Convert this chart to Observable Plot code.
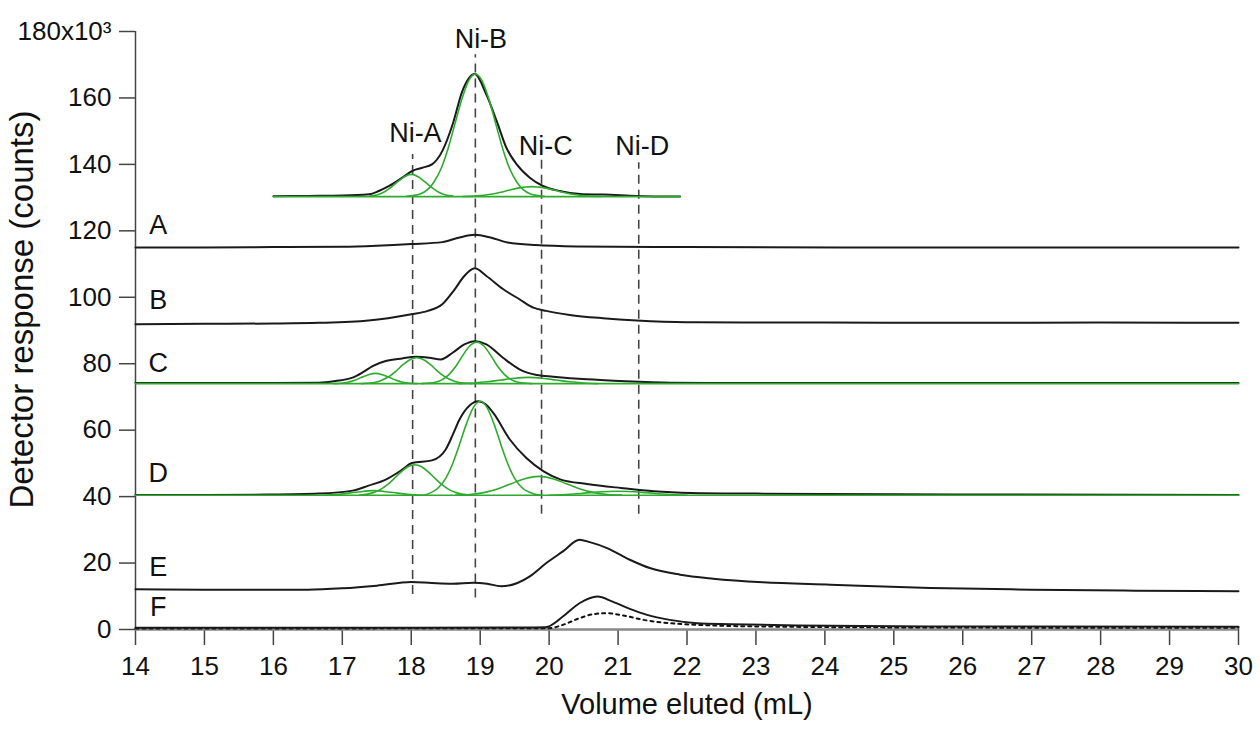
<!DOCTYPE html>
<html><head><meta charset="utf-8">
<script src="https://cdn.jsdelivr.net/npm/d3@7"></script>
<script src="https://cdn.jsdelivr.net/npm/@observablehq/plot@0.6"></script>
<style>body{margin:0;background:#fff}</style>
</head><body><div id="chart"></div>
<script>
// ---- axis ticks ----
const volTicks = [14,15,16,17,18,19,20,21,22,23,24,25,26,27,28,29,30];
const respTicks = [0,20,40,60,80,100,120,140,160,180];

// ---- black traces: [volume mL, response x10^3] ----
const insetTrace = [[16.0,130.4],[16.5,130.5],[17.0,130.6],[17.39,131.0],[17.53,132],[17.68,133.5],[17.87,136],[18.01,138],[18.16,139],[18.3,140],[18.45,144],[18.6,152],[18.74,162],[18.92,167.2],[19.09,161],[19.24,153],[19.38,145],[19.53,140],[19.72,136],[19.91,133.5],[20.15,132],[20.49,131],[20.78,130.9],[21.27,130.5],[21.9,130.3]];
const traceA = [[14,115.0],[15,115.0],[16,115.1],[17,115.2],[17.5,115.5],[18.0,116.0],[18.45,116.6],[18.7,118.0],[18.92,118.8],[19.15,118.0],[19.4,116.5],[19.8,115.7],[20.4,115.3],[22,115.1],[26,115.0],[30,115.0]];
const traceB = [[14,91.9],[15,92.0],[16,92.1],[16.66,92.3],[17.38,93.0],[18.0,94.9],[18.24,95.9],[18.45,97.9],[18.63,102.4],[18.77,106.4],[18.92,108.7],[19.09,106.4],[19.33,102.5],[19.57,99.4],[19.77,96.9],[19.96,95.9],[20.3,94.7],[20.78,93.7],[21.27,93.0],[22,92.5],[24,92.4],[26,92.3],[28,92.4],[30,92.3]];
const traceC = [[14,74.2],[15,74.2],[16,74.2],[16.66,74.3],[16.9,74.8],[17.15,75.8],[17.29,77.3],[17.44,79.3],[17.63,80.8],[17.87,81.6],[18.06,82.1],[18.26,81.8],[18.43,81.3],[18.6,83.3],[18.77,85.8],[18.92,86.8],[19.09,85.8],[19.33,81.8],[19.57,78.3],[19.82,76.6],[20.06,76.1],[20.55,75.3],[21.03,74.8],[21.76,74.3],[23,74.2],[30,74.2]];
const traceD = [[14,40.5],[15,40.5],[15.93,40.6],[16.66,40.9],[17.15,41.8],[17.38,43.3],[17.63,45.1],[17.87,48.1],[18.01,50.1],[18.3,50.9],[18.5,54.2],[18.6,58.5],[18.7,63.2],[18.85,67.5],[18.97,68.7],[19.08,67.8],[19.19,65.2],[19.43,57.2],[19.67,51.6],[19.92,47.6],[20.17,45.1],[20.55,43.8],[21.04,42.6],[21.52,41.6],[22.06,41.1],[23,40.9],[25,40.7],[30,40.5]];
const traceE = [[14,12.1],[15,12.0],[16,12.0],[16.5,12.0],[17.0,12.4],[17.5,13.2],[18.0,14.3],[18.3,14.0],[18.6,13.8],[18.9,14.1],[19.1,13.8],[19.3,13.0],[19.54,14.0],[19.72,16.0],[19.96,20.0],[20.2,23.5],[20.44,27.0],[20.59,26.3],[20.84,24.5],[21.17,21.0],[21.46,18.5],[21.9,16.5],[22.38,15.3],[23.1,14.2],[24.08,13.5],[25.53,12.5],[27,12.0],[28.5,11.7],[30,11.5]];
const traceF = [[14,0.5],[16,0.5],[18,0.5],[19.5,0.6],[19.95,0.7],[20.2,3.9],[20.44,7.9],[20.7,9.9],[20.92,8.4],[21.17,6.2],[21.42,4.4],[21.75,2.9],[22.15,1.9],[22.63,1.6],[23.6,1.2],[25.5,0.9],[30,0.8]];
const traceFdotted = [[14,0.3],[20.0,0.4],[20.2,1.4],[20.44,3.4],[20.67,4.7],[20.84,4.9],[21.08,4.2],[21.37,2.9],[21.75,1.9],[22.15,1.4],[23.1,0.9],[25.5,0.6],[30,0.5]];

// ---- green fitted components ----
const insetBase = [[16.0,130.3],[21.9,130.3]];
const insetNiA = [[17.4,130.45],[17.5,130.8],[17.6,131.6],[17.7,133.0],[17.8,134.7],[17.9,136.3],[18.0,137.0],[18.1,136.3],[18.2,134.7],[18.3,133.0],[18.4,131.6],[18.5,130.8],[18.6,130.45]];
const insetNiB = [[17.93,130.4],[18.13,131.1],[18.33,134.7],[18.43,138.6],[18.53,144.5],[18.63,151.9],[18.73,159.4],[18.83,165.1],[18.93,167.2],[19.03,165.1],[19.13,159.4],[19.23,151.9],[19.33,144.5],[19.43,138.6],[19.53,134.7],[19.73,131.1],[19.93,130.4]];
const insetNiC = [[18.75,130.35],[18.95,130.52],[19.15,131.0],[19.35,131.86],[19.55,132.85],[19.75,133.3],[19.95,132.85],[20.15,131.86],[20.35,131.0],[20.55,130.52],[20.75,130.35]];
const cBase = [[14,74.0],[30,74.0]];
const c1 = [[16.88,74.0],[16.98,74.1],[17.08,74.4],[17.18,75.0],[17.28,75.9],[17.38,76.7],[17.48,77.1],[17.58,76.7],[17.68,75.9],[17.78,75.0],[17.88,74.4],[17.98,74.1],[18.08,74.0]];
const c2 = [[17.28,74.0],[17.48,74.4],[17.58,75.1],[17.68,76.2],[17.78,77.8],[17.88,79.7],[17.98,81.2],[18.08,81.8],[18.18,81.2],[18.28,79.7],[18.38,77.8],[18.48,76.2],[18.58,75.1],[18.68,74.4],[18.88,74.0]];
const c3 = [[18.15,74.0],[18.35,74.4],[18.45,75.2],[18.55,76.8],[18.65,79.3],[18.75,82.6],[18.85,85.4],[18.95,86.5],[19.05,85.4],[19.15,82.6],[19.25,79.3],[19.35,76.8],[19.45,75.2],[19.55,74.4],[19.75,74.0]];
const c4 = [[18.7,74.0],[18.9,74.2],[19.1,74.55],[19.3,75.1],[19.5,75.65],[19.7,75.9],[19.9,75.65],[20.1,75.1],[20.3,74.55],[20.5,74.2],[20.7,74.0]];
const dBase = [[14,40.4],[30,40.4]];
const d1 = [[16.7,40.4],[16.95,40.7],[17.2,41.3],[17.45,41.8],[17.7,41.3],[17.95,40.7],[18.2,40.4]];
const d2 = [[17.25,40.4],[17.45,41.2],[17.55,42.1],[17.65,43.5],[17.75,45.4],[17.85,47.4],[17.95,49.0],[18.05,49.6],[18.15,49.0],[18.25,47.4],[18.35,45.4],[18.45,43.5],[18.55,42.1],[18.65,41.2],[18.85,40.4]];
const d3 = [[18.2,40.5],[18.4,42.8],[18.5,45.5],[18.6,49.9],[18.7,55.7],[18.8,61.9],[18.9,66.8],[19.0,68.7],[19.1,66.8],[19.2,61.9],[19.3,55.7],[19.4,49.9],[19.5,45.5],[19.6,42.8],[19.8,40.7],[19.9,40.4]];
const d4 = [[18.65,40.45],[18.85,40.65],[19.05,41.2],[19.25,42.3],[19.45,43.9],[19.65,45.4],[19.85,46.1],[20.05,45.4],[20.25,43.9],[20.45,42.3],[20.65,41.2],[20.85,40.65],[21.05,40.45]];
const d5 = [[20.0,40.4],[20.3,40.7],[20.6,41.2],[21.0,41.6],[21.4,41.2],[21.7,40.7],[22.0,40.4]];

// ---- peak markers ----
const peakNames = ["Ni-A","Ni-B","Ni-C","Ni-D"];
const peakVol = [18.02, 18.93, 19.89, 21.30];
const peakLineTop = [143, 173, 143, 140.5];
const peakLineBottom = [10.5, 9.5, 34.7, 34.7];
const peakLabelX = [18.06, 19.01, 19.95, 21.35];
const peakLabelY = [149.2, 177.6, 145.4, 145.4];

// ---- trace letters ----
const traceNames = ["A","B","C","D","E","F"];
const traceLabelY = [121.5, 99.2, 80.2, 47.0, 18.8, 6.7];
const traceLabelX = 14.33;

const toRows = (list) => list.flatMap(([s, pts]) => pts.map(([x, y]) => ({s, x, y})));
const blackRows = toRows([["inset",insetTrace],["A",traceA],["B",traceB],["C",traceC],["D",traceD],["E",traceE],["F",traceF]]);
const greenRows = toRows([["ib",insetBase],["ia",insetNiA],["ibb",insetNiB],["ic",insetNiC],["cb",cBase],["c1",c1],["c2",c2],["c3",c3],["c4",c4],["db",dBase],["d1",d1],["d2",d2],["d3",d3],["d4",d4],["d5",d5]]);
const dottedRows = toRows([["Fd",traceFdotted]]);
const peaks = peakNames.map((n,i) => ({n, x: peakVol[i], y1: peakLineBottom[i], y2: peakLineTop[i], lx: peakLabelX[i], ly: peakLabelY[i]}));
const letters = traceNames.map((n,i) => ({n, x: traceLabelX, y: traceLabelY[i]}));

const green = "#2eaa2e";
const font = "'Liberation Sans', Arial, Helvetica, sans-serif";

const chart = Plot.plot({
  width: 1260, height: 735,
  marginLeft: 135, marginRight: 22, marginTop: 31, marginBottom: 106,
  style: {fontFamily: font, background: "#fff", color: "#111"},
  x: {domain: [14, 30]},
  y: {domain: [0, 180]},
  marks: [
    Plot.axisY({ticks: respTicks, tickSize: 16, tickPadding: 8, fontSize: 26, label: null,
      tickFormat: d => d === 180 ? "180x10³" : String(d), stroke: "#444", strokeWidth: 1.5, fill: "#111"}),
    Plot.axisX({ticks: volTicks, tickSize: 16, tickPadding: 11, fontSize: 26, label: null,
      tickFormat: d => String(d), stroke: "#444", strokeWidth: 1.5, fill: "#111"}),
    Plot.ruleX([14], {y1: 0, y2: 180, stroke: "#444", strokeWidth: 1.5}),
    Plot.ruleY([0], {x1: 14, x2: 30, stroke: "#888", strokeWidth: 2.5}),
    Plot.ruleX(peaks, {x: "x", y1: "y1", y2: "y2", stroke: "#444", strokeWidth: 1.6, strokeDasharray: "9,6"}),
    Plot.line(dottedRows, {x: "x", y: "y", z: "s", curve: "monotone-x", stroke: "#111", strokeWidth: 2, strokeDasharray: "3,4"}),
    Plot.line(blackRows, {x: "x", y: "y", z: "s", curve: "monotone-x", stroke: "#1a1a1a", strokeWidth: 2}),
    Plot.line(greenRows, {x: "x", y: "y", z: "s", curve: "monotone-x", stroke: green, strokeWidth: 1.6}),
    Plot.text(peaks, {x: "lx", y: "ly", text: "n", fontSize: 27, fill: "#111"}),
    Plot.text(letters, {x: "x", y: "y", text: "n", fontSize: 27, fill: "#111"}),
    Plot.text(["Detector response (counts)"], {frameAnchor: "left", textAnchor: "middle", rotate: -90, dx: -113, dy: -21, fontSize: 33, fill: "#111"}),
    Plot.text(["Volume eluted (mL)"], {frameAnchor: "bottom", dy: 84, fontSize: 29, fill: "#111"})
  ]
});
document.getElementById("chart").appendChild(chart);
</script>
</body></html>
